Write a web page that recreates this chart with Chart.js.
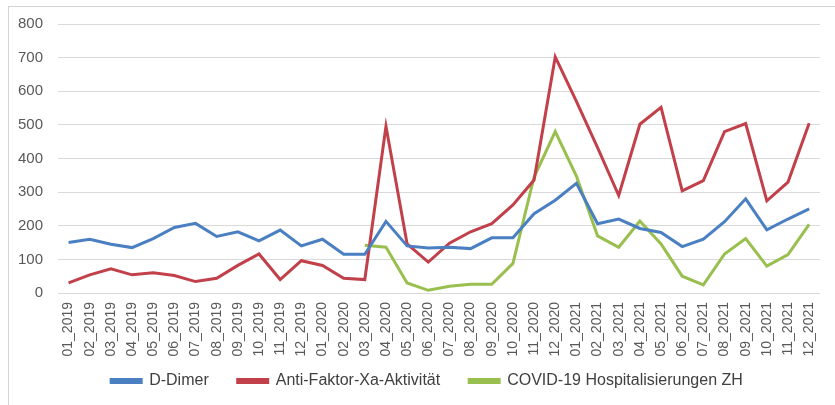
<!DOCTYPE html>
<html>
<head>
<meta charset="utf-8">
<script src="https://cdn.jsdelivr.net/npm/chart.js@4"></script>
<style>
  html, body { margin: 0; padding: 0; background: #ffffff; overflow: hidden; }
  #frame { position: absolute; left: 8px; top: 6px; width: 840px; height: 420px; border: 1px solid #d4d4d4; box-sizing: border-box; }
  #wrap { position: absolute; left: 0; top: 0; width: 835px; height: 405px; }
</style>
</head>
<body>
<div id="frame"></div>
<div id="wrap"><canvas id="chart" width="835" height="405"></canvas></div>
<script>
// Monthly categories 01_2019 ... 12_2021
const months = [
  "01_2019","02_2019","03_2019","04_2019","05_2019","06_2019","07_2019","08_2019","09_2019","10_2019","11_2019","12_2019",
  "01_2020","02_2020","03_2020","04_2020","05_2020","06_2020","07_2020","08_2020","09_2020","10_2020","11_2020","12_2020",
  "01_2021","02_2021","03_2021","04_2021","05_2021","06_2021","07_2021","08_2021","09_2021","10_2021","11_2021","12_2021"
];

const dDimer = [
  150, 160, 145, 135, 162, 195, 207, 168, 182, 155, 187, 140,
  160, 115, 115, 213, 140, 134, 136, 132, 164, 164, 236, 276,
  326, 206, 220, 192, 180, 138, 160, 212, 280, 188, 220, 250
];

const antiXa = [
  30, 54, 72, 54, 60, 52, 34, 44, 82, 116, 40, 96,
  82, 44, 40, 496, 146, 92, 148, 182, 206, 262, 336, 702,
  570, 432, 290, 502, 552, 304, 334, 480, 504, 274, 330, 505
];

const covidZH = [
  null, null, null, null, null, null, null, null, null, null, null, null,
  null, null, 142, 136, 30, 8, 20, 26, 26, 88, 345, 480,
  348, 170, 136, 214, 146, 50, 24, 116, 162, 80, 114, 204
];

const seriesNames = ["D-Dimer", "Anti-Faktor-Xa-Aktivität", "COVID-19 Hospitalisierungen ZH"];
const seriesColors = ["#4a7fc1", "#c2404a", "#99bf4f"];
const yTicks = [0, 100, 200, 300, 400, 500, 600, 700, 800];

const seriesData = [dDimer, antiXa, covidZH];

const datasets = seriesNames.map((name, i) => ({
  label: name,
  data: seriesData[i],
  borderColor: seriesColors[i],
  backgroundColor: seriesColors[i],
  borderWidth: 3,
  pointRadius: 0,
  pointHoverRadius: 0,
  tension: 0,
  spanGaps: false
}));

const fontFamily = "'Liberation Sans', Arial, sans-serif";

// Let the rotated month labels run below the axis box, and centre the
// legend under the plot area rather than the whole canvas.
const layoutTweaks = {
  id: "layoutTweaks",
  afterLayout(chart) {
    chart.scales.x.bottom = chart.height;
    const lg = chart.legend;
    if (lg) { lg.left += 22; }
  }
};

new Chart(document.getElementById("chart"), {
  type: "line",
  data: { labels: months, datasets },
  plugins: [layoutTweaks],
  options: {
    responsive: false,
    animation: false,
    devicePixelRatio: 1,
    layout: { padding: { top: 24, right: 3, left: 0, bottom: 6 } },
    plugins: {
      tooltip: { enabled: false },
      legend: {
        position: "bottom",
        labels: {
          boxWidth: 30,
          boxHeight: 3,
          padding: 29,
          color: "#404040",
          font: { family: fontFamily, size: 16 }
        }
      }
    },
    scales: {
      x: {
        offset: true,
        grid: { display: false, drawTicks: false },
        border: { display: false },
        ticks: {
          autoSkip: false,
          minRotation: 90,
          maxRotation: 90,
          padding: 9,
          color: "#595959",
          font: { family: fontFamily, size: 14 }
        },
        afterFit: (scale) => { scale.height = 51; }
      },
      y: {
        min: 0,
        max: 800,
        afterBuildTicks: (scale) => { scale.ticks = yTicks.map(v => ({ value: v })); },
        grid: { color: "#d9d9d9", lineWidth: 1, drawTicks: false },
        border: { display: false },
        ticks: {
          padding: 15,
          color: "#595959",
          font: { family: fontFamily, size: 15 }
        },
        afterFit: (scale) => { scale.width = 58; }
      }
    }
  }
});
</script>
</body>
</html>
